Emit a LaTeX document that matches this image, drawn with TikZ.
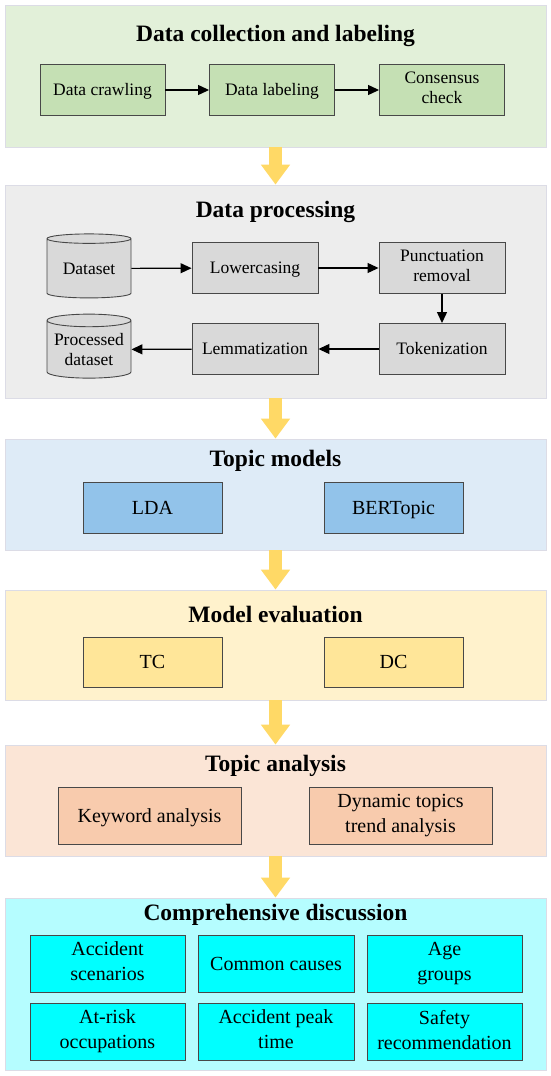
\documentclass[tikz,border=0pt]{standalone}
\usepackage{fontspec}
\setmainfont{Liberation Serif}
\usetikzlibrary{arrows.meta,shapes.geometric}
\definecolor{greenbg}{HTML}{E2F0D9}
\definecolor{greenbox}{HTML}{C5E0B4}
\definecolor{graybg}{HTML}{EDEDED}
\definecolor{graybox}{HTML}{D9D9D9}
\definecolor{bluebg}{HTML}{DEEBF7}
\definecolor{bluebox}{HTML}{92C3EA}
\definecolor{yellowbg}{HTML}{FFF2CC}
\definecolor{yellowbox}{HTML}{FFE699}
\definecolor{orangebg}{HTML}{FBE5D6}
\definecolor{orangebox}{HTML}{F8CBAD}
\definecolor{cyanbg}{HTML}{B5FDFF}
\definecolor{cyanbox}{HTML}{00FFFF}
\definecolor{flowyellow}{HTML}{FFD966}
\definecolor{panelline}{HTML}{DCDCE6}
\definecolor{boxline}{HTML}{484848}
\begin{document}
\begin{tikzpicture}[x=1pt,y=-1pt,
  panel/.style={draw=panelline,line width=0.8pt,minimum width=541pt,inner sep=0pt},
  title/.style={anchor=base,font=\fontsize{23.5}{26}\selectfont\bfseries},
  box/.style={draw=boxline,line width=0.9pt,align=center,inner sep=0pt,
    execute at begin node={\rule{0pt}{0.75\baselineskip}},
    execute at end node={\rule[-0.2\baselineskip]{0pt}{0pt}}},
  smallbox/.style={box,minimum width=125pt,minimum height=51pt,font=\fontsize{17.5}{20}\selectfont},
  bigbox/.style={box,font=\fontsize{20}{25}\selectfont},
  store/.style={cylinder,shape border rotate=90,aspect=0.18,draw=boxline,line width=0.9pt,fill=graybox,
    minimum width=84pt,minimum height=64pt,inner sep=0pt,align=center,font=\fontsize{17.5}{20}\selectfont},
  link/.style={-{Triangle[length=11pt,width=10pt]},line width=1.2pt},
  flow/.style={draw=flowyellow,line width=13pt,-{Triangle[length=20pt,width=28pt]}}]
\path[fill=white] (0,0) rectangle (550,1076);
\node[panel,fill=greenbg,minimum height=142pt] (collect) at (275.5,76) {};
\node[panel,fill=graybg,minimum height=213pt] (process) at (275.5,291.5) {};
\node[panel,fill=bluebg,minimum height=111pt] (models) at (275.5,494.5) {};
\node[panel,fill=yellowbg,minimum height=110pt] (evaluate) at (275.5,645) {};
\node[panel,fill=orangebg,minimum height=111pt] (analysis) at (275.5,800.5) {};
\node[panel,fill=cyanbg,minimum height=172pt] (discuss) at (275.5,984) {};
\foreach \a/\b in {collect/process,process/models,models/evaluate,evaluate/analysis,analysis/discuss}
  \draw[flow] (\a.south) -- (\b.north);
\node[title] (collecttitle) at (275.5,41) {Data collection and labeling};
\node[title] (processtitle) at (275.5,217) {Data processing};
\node[title] (modelstitle) at (275.5,466) {Topic models};
\node[title] (evaluatetitle) at (275.5,622) {Model evaluation};
\node[title] (analysistitle) at (275.5,771.5) {Topic analysis};
\node[title] (discusstitle) at (275.5,920.5) {Comprehensive discussion};
\node[smallbox,fill=greenbox] (crawl) at (102.5,90) {Data crawling};
\node[smallbox,fill=greenbox] (label) at (272,90) {Data labeling};
\node[smallbox,fill=greenbox] (check) at (442,90) {Consensus\\check};
\draw[link] (crawl) -- (label);
\draw[link] (label) -- (check);
\node[store] (data) at (89,268.5) {Dataset};
\node[smallbox,fill=graybox,minimum width=126pt] (lower) at (255,268) {Lowercasing};
\node[smallbox,fill=graybox,minimum width=126pt] (punct) at (442,268) {Punctuation\\removal};
\node[smallbox,fill=graybox,minimum width=126pt] (token) at (442,349) {Tokenization};
\node[smallbox,fill=graybox,minimum width=126pt] (lemma) at (255,349) {Lemmatization};
\node[store] (processed) at (89,349.5) {Processed\\dataset};
\draw[link] (data) -- (lower);
\draw[link] (lower) -- (punct);
\draw[link] (punct) -- (token);
\draw[link] (token) -- (lemma);
\draw[link] (lemma) -- (processed);
\node[bigbox,fill=bluebox,minimum width=139pt,minimum height=51pt] (lda) at (152.5,507.5) {LDA};
\node[bigbox,fill=bluebox,minimum width=139pt,minimum height=51pt] (bert) at (393.5,507.5) {BERTopic};
\node[bigbox,fill=yellowbox,minimum width=139pt,minimum height=50pt] (tc) at (152.5,662) {TC};
\node[bigbox,fill=yellowbox,minimum width=139pt,minimum height=50pt] (dc) at (393.5,662) {DC};
\node[bigbox,fill=orangebox,minimum width=183pt,minimum height=57pt] (keyword) at (149.5,815.5) {Keyword analysis};
\node[bigbox,fill=orangebox,minimum width=183pt,minimum height=57pt] (trend) at (400.5,815.5) {Dynamic topics\\trend analysis};
\node[bigbox,fill=cyanbox,minimum width=155pt,minimum height=57pt] (scene) at (107.5,964) {Accident\\scenarios};
\node[bigbox,fill=cyanbox,minimum width=156pt,minimum height=57pt] (cause) at (276,964) {Common causes};
\node[bigbox,fill=cyanbox,minimum width=155pt,minimum height=57pt] (age) at (444.5,964) {Age\\groups};
\node[bigbox,fill=cyanbox,minimum width=155pt,minimum height=57pt] (risk) at (107.5,1032) {At-risk\\occupations};
\node[bigbox,fill=cyanbox,minimum width=156pt,minimum height=57pt] (peak) at (276,1032) {Accident peak\\time};
\node[bigbox,fill=cyanbox,minimum width=155pt,minimum height=57pt] (safety) at (444.5,1032) {Safety\\recommendation};
\end{tikzpicture}
\end{document}
